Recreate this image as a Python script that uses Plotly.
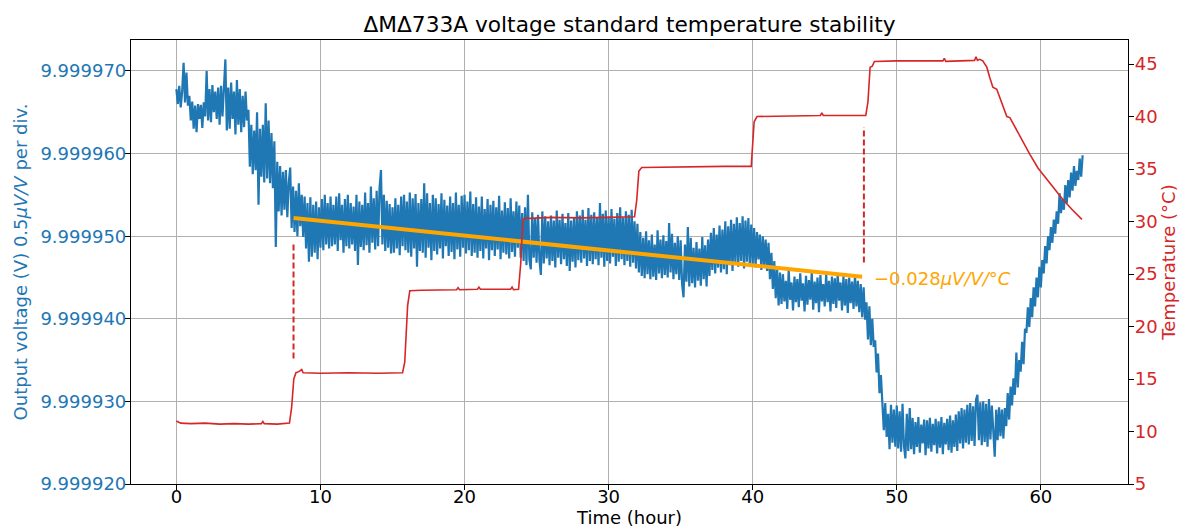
import plotly.graph_objects as go

# ---------------- data ----------------
SAMPLE_STEP_H = 0.1          # hours between voltage samples
V_BASE = 9.99992             # volts, bottom of the left axis

# Output voltage above V_BASE in microvolts, one row per hour (10 samples/hour)
volt_uv_rows = [
    [47.8, 46.0, 48.2, 45.6, 47.5, 51.0, 46.2, 49.8, 45.8, 47.0],   # 0
    [44.0, 46.3, 43.0, 45.8, 42.6, 46.0, 44.2, 45.9, 43.1, 46.2],   # 1
    [44.5, 50.0, 44.0, 47.8, 43.8, 48.3, 45.0, 47.5, 44.2, 48.0],   # 2
    [43.5, 48.2, 44.5, 47.5, 51.4, 42.8, 48.0, 43.0, 48.6, 44.2],   # 3
    [47.5, 42.3, 48.9, 43.5, 47.8, 42.6, 47.0, 43.2, 47.5, 44.0],   # 4
    [45.3, 38.4, 43.5, 37.5, 42.8, 38.0, 45.0, 33.8, 43.0, 37.2],   # 5
    [43.5, 36.5, 46.1, 37.0, 44.0, 36.4, 42.5, 35.8, 41.5, 28.7],   # 6
    [39.0, 33.0, 38.5, 32.5, 37.8, 33.2, 38.0, 32.3, 36.5, 38.3],   # 7
    [31.0, 36.0, 30.5, 35.5, 30.0, 36.4, 31.2, 35.0, 29.9, 34.8],   # 8
    [28.5, 34.0, 26.9, 34.7, 27.5, 33.8, 28.0, 34.2, 27.2, 33.5],   # 9
    [28.6, 34.5, 28.3, 35.0, 29.0, 34.0, 28.5, 34.8, 28.8, 33.8],   # 10
    [29.0, 34.8, 28.2, 35.2, 29.5, 33.8, 28.0, 34.5, 28.8, 35.0],   # 11
    [28.5, 34.0, 29.0, 33.6, 28.2, 35.0, 26.5, 34.2, 28.7, 33.8],   # 12
    [28.3, 35.3, 28.9, 34.0, 28.0, 36.0, 29.2, 34.6, 28.4, 35.5],   # 13
    [28.8, 35.8, 38.0, 29.0, 35.0, 28.2, 34.3, 28.6, 33.9, 27.9],   # 14
    [33.5, 28.0, 34.6, 28.5, 33.8, 27.7, 34.8, 28.8, 35.0, 28.3],   # 15
    [34.2, 28.0, 35.3, 27.5, 34.6, 28.5, 35.1, 26.3, 34.0, 28.2],   # 16
    [34.5, 28.0, 36.4, 27.4, 35.2, 28.6, 34.0, 27.1, 35.0, 28.2],   # 17
    [34.6, 27.8, 33.9, 28.5, 35.2, 27.3, 34.4, 28.8, 33.7, 27.6],   # 18
    [34.8, 28.1, 34.0, 27.2, 35.3, 28.4, 33.8, 27.5, 34.9, 28.6],   # 19
    [35.0, 27.9, 34.2, 28.3, 35.4, 27.6, 33.9, 28.0, 34.7, 27.4],   # 20
    [33.6, 28.2, 34.8, 27.3, 33.3, 28.5, 34.5, 27.1, 33.8, 28.3],   # 21
    [34.3, 27.6, 33.5, 28.4, 34.9, 27.2, 33.1, 28.0, 34.1, 27.8],   # 22
    [33.4, 27.3, 34.6, 28.1, 33.0, 27.5, 34.2, 28.6, 33.7, 27.4],   # 23
    [32.8, 27.0, 33.5, 26.5, 35.0, 27.2, 26.0, 32.9, 27.4, 32.2],   # 24
    [26.8, 32.6, 27.1, 25.3, 33.0, 26.7, 32.4, 27.3, 31.8, 26.5],   # 25
    [32.5, 27.0, 31.9, 26.2, 33.1, 27.4, 32.0, 26.6, 32.7, 27.2],   # 26
    [31.6, 26.4, 32.8, 25.8, 31.9, 26.9, 32.3, 26.2, 33.0, 27.1],   # 27
    [32.5, 26.8, 33.2, 27.3, 32.0, 26.4, 33.4, 27.0, 32.6, 26.6],   # 28
    [32.9, 27.2, 32.2, 26.5, 34.0, 27.4, 32.7, 26.3, 33.1, 27.0],   # 29
    [32.4, 26.7, 33.3, 27.5, 32.1, 26.4, 32.8, 26.9, 33.5, 27.2],   # 30
    [32.2, 26.5, 33.0, 27.0, 32.6, 26.3, 33.2, 26.8, 31.8, 26.1],   # 31
    [31.5, 25.6, 30.5, 25.2, 29.8, 24.9, 30.6, 25.4, 29.5, 24.8],   # 32
    [30.2, 25.1, 29.0, 24.7, 30.7, 25.5, 29.6, 24.9, 30.1, 25.3],   # 33
    [29.4, 25.0, 31.6, 25.6, 30.3, 24.8, 29.2, 25.4, 30.0, 24.7],   # 34
    [29.5, 24.2, 22.6, 29.0, 24.5, 31.1, 23.9, 29.8, 24.3, 28.6],   # 35
    [23.8, 29.3, 24.6, 28.5, 24.0, 29.9, 24.8, 28.9, 23.9, 29.6],   # 36
    [25.2, 30.4, 25.9, 31.0, 25.5, 30.2, 26.2, 31.3, 25.6, 30.8],   # 37
    [26.0, 31.8, 25.4, 31.2, 26.5, 32.0, 25.8, 31.5, 26.8, 32.3],   # 38
    [26.3, 31.6, 27.0, 32.4, 26.1, 31.9, 26.9, 32.2, 26.4, 31.4],   # 39
    [26.6, 31.0, 26.2, 30.5, 27.2, 30.2, 25.9, 30.0, 26.4, 29.6],   # 40
    [25.8, 29.2, 24.8, 28.0, 23.6, 27.0, 22.5, 26.0, 21.6, 25.6],   # 41
    [21.8, 25.4, 22.1, 24.6, 21.2, 25.9, 22.3, 24.4, 21.0, 25.1],   # 42
    [22.0, 24.8, 21.4, 25.5, 22.2, 24.3, 20.9, 25.2, 21.7, 24.7],   # 43
    [22.3, 25.6, 21.1, 24.5, 21.9, 25.0, 20.8, 25.3, 22.1, 24.2],   # 44
    [21.5, 25.4, 22.0, 24.6, 20.9, 25.1, 21.8, 24.9, 21.3, 25.5],   # 45
    [22.2, 24.4, 21.0, 25.2, 21.6, 24.8, 20.7, 25.0, 21.9, 24.5],   # 46
    [21.2, 25.3, 21.5, 24.6, 20.8, 24.2, 20.2, 23.8, 19.9, 22.0],   # 47
    [17.5, 21.5, 16.8, 20.0, 16.6, 17.4, 13.5, 15.8, 11.0, 13.2],   # 48
    [10.2, 6.5, 9.8, 5.7, 8.5, 4.2, 9.6, 5.0, 9.0, 4.5],            # 49
    [9.5, 4.3, 8.8, 3.9, 9.7, 4.6, 3.1, 8.5, 4.0, 9.2],             # 50
    [4.2, 8.0, 3.6, 7.5, 4.5, 8.1, 3.8, 7.2, 4.9, 7.8],             # 51
    [3.5, 7.7, 4.3, 8.0, 3.9, 7.3, 4.7, 7.9, 3.7, 7.6],             # 52
    [4.4, 8.1, 3.6, 7.4, 4.8, 7.9, 4.1, 8.3, 3.8, 7.7],             # 53
    [4.5, 8.4, 4.0, 8.8, 4.9, 9.2, 4.3, 9.0, 5.0, 9.6],             # 54
    [4.8, 9.8, 5.2, 9.4, 4.6, 10.2, 10.8, 5.3, 9.9, 4.7],           # 55
    [10.0, 5.1, 9.7, 4.5, 10.3, 5.4, 9.5, 6.0, 3.3, 9.0],           # 56
    [5.3, 9.3, 5.8, 9.0, 5.5, 9.2, 7.0, 11.0, 7.8, 11.8],           # 57
    [9.5, 12.8, 10.8, 15.9, 11.7, 15.0, 13.6, 17.2, 14.5, 18.8],    # 58
    [18.3, 21.4, 19.0, 22.5, 20.2, 23.8, 21.5, 25.0, 22.6, 26.3],   # 59
    [23.8, 27.1, 25.5, 28.8, 26.7, 30.0, 28.3, 31.1, 29.2, 32.0],   # 60
    [30.3, 33.0, 31.5, 35.2, 32.8, 34.5, 33.2, 36.2, 34.0, 36.8],   # 61
    [34.7, 37.7, 35.5, 38.5, 36.1, 37.9, 36.8, 39.4, 37.2, 39.8],   # 62
]

# Temperature profile (hour, °C)
temp_t = [0.0, 0.3, 1.0, 2.0, 3.0, 4.0, 5.0, 5.9, 6.0, 6.1, 7.0, 7.7, 7.85,
          8.0, 8.15, 8.3, 8.5, 8.7, 8.8, 10.0, 12.0, 14.0, 15.7, 15.85, 16.05,
          16.2, 17.0, 19.45, 19.55, 19.65, 20.9, 21.0, 21.1, 23.2, 23.3, 23.4,
          23.75, 23.9, 24.05, 24.3, 24.5, 26.0, 28.0, 30.0, 31.8, 31.95, 32.1,
          32.3, 34.0, 36.0, 38.0, 39.9, 40.0, 40.1, 40.3, 42.0, 44.7, 44.8,
          44.9, 46.0, 47.85, 48.0, 48.15, 48.3, 48.45, 50.0, 53.2, 53.3, 53.4,
          55.4, 55.5, 55.6, 55.75, 55.97, 56.25, 56.46, 56.67, 56.94, 57.3,
          57.64, 57.85, 58.5, 59.24, 59.8, 60.42, 61.0, 61.53, 62.2, 62.85]
temp_c = [11.0, 10.8, 10.75, 10.8, 10.7, 10.75, 10.7, 10.75, 10.95, 10.75, 10.7,
          10.75, 10.8, 12.3, 15.0, 15.6, 15.7, 15.9, 15.6, 15.55, 15.6, 15.55,
          15.6, 16.6, 22.0, 23.4, 23.45, 23.5, 23.7, 23.5, 23.55, 23.75, 23.55,
          23.55, 23.75, 23.5, 23.55, 26.0, 30.2, 30.35, 30.3, 30.4, 30.35, 30.4,
          30.45, 32.0, 34.8, 35.15, 35.2, 35.2, 35.25, 35.25, 37.5, 39.5, 40.0,
          40.05, 40.1, 40.35, 40.1, 40.1, 40.1, 41.4, 44.7, 44.8, 45.25, 45.3,
          45.3, 45.55, 45.25, 45.35, 45.7, 45.35, 45.45, 45.3, 44.7, 43.7, 42.8,
          42.6, 41.3, 40.0, 39.9, 38.2, 36.4, 35.1, 34.0, 33.0, 32.1, 31.1, 30.2]

# Linear fit over the temperature steps (hour, µV above V_BASE)
fit_t = [8.13, 47.6]
fit_uv = [32.2, 25.1]

# Dashed markers (hour, µV above V_BASE)
mark1_t = [8.13, 8.13]
mark1_uv = [15.2, 29.3]
mark2_t = [47.72, 47.72]
mark2_uv = [26.8, 43.2]

coef_label = "\u22120.028<i>\u03bcV/V/\u00b0C</i>"
coef_pos_t = 48.3
coef_pos_uv = 24.9

x_ticks = [0, 10, 20, 30, 40, 50, 60]
v_ticks = [9.99992, 9.99993, 9.99994, 9.99995, 9.99996, 9.99997]
t_ticks = [5, 10, 15, 20, 25, 30, 35, 40, 45]

# ---------------- build ----------------
volt_uv = [v for row in volt_uv_rows for v in row]
time_h = [round(i * SAMPLE_STEP_H, 2) for i in range(len(volt_uv))]


def to_volt(vals):
    return [V_BASE + v * 1e-6 for v in vals]


BLUE = "#1f77b4"
RED = "#d62728"
ORANGE = "#FFA500"
FONT = "DejaVu Sans"

fig = go.Figure()
fig.add_trace(go.Scatter(x=time_h, y=to_volt(volt_uv), mode="lines",
                         line=dict(color=BLUE, width=2.2), yaxis="y"))
fig.add_trace(go.Scatter(x=fit_t, y=to_volt(fit_uv), mode="lines",
                         line=dict(color=ORANGE, width=4), yaxis="y"))
fig.add_trace(go.Scatter(x=mark1_t, y=to_volt(mark1_uv), mode="lines",
                         line=dict(color=RED, width=2, dash="6px,3px"), yaxis="y"))
fig.add_trace(go.Scatter(x=mark2_t, y=to_volt(mark2_uv), mode="lines",
                         line=dict(color=RED, width=2, dash="6px,3px"), yaxis="y"))
fig.add_trace(go.Scatter(x=temp_t, y=temp_c, mode="lines",
                         line=dict(color=RED, width=1.6), yaxis="y2"))

fig.add_annotation(x=coef_pos_t, y=V_BASE + coef_pos_uv * 1e-6, xref="x", yref="y",
                   text=coef_label, showarrow=False, xanchor="left", yanchor="middle",
                   font=dict(family=FONT, size=18, color=ORANGE))

GRID = "#b0b0b0"
fig.update_layout(
    width=1181, height=531,
    margin=dict(l=131, r=53, t=40, b=47),
    paper_bgcolor="white", plot_bgcolor="white",
    showlegend=False,
    font=dict(family=FONT, size=18, color="black"),
    title=dict(text="\u0394M\u0394733A voltage standard temperature stability",
               x=0.5, xref="paper", xanchor="center", y=1 - 24 / 531,
               yanchor="middle", yref="container",
               font=dict(family=FONT, size=21.7, color="black")),
    xaxis=dict(range=[-3.15, 66.05], tickvals=x_ticks, showgrid=True,
               gridcolor=GRID, gridwidth=1, zeroline=False,
               showline=True, linecolor="black", linewidth=1.2, mirror=True,
               ticks="outside", ticklen=5, tickwidth=1.2, tickcolor="black",
               ticklabelstandoff=-9,
               tickfont=dict(size=18, color="black"),
               title=dict(text="Time (hour)", standoff=2,
                          font=dict(size=18, color="black")),
               automargin=False),
    yaxis=dict(range=[9.99992, 9.99997375], tickvals=v_ticks, tickformat=".6f",
               showgrid=True, gridcolor=GRID, gridwidth=1, zeroline=False,
               showline=True, linecolor="black", linewidth=1.2, mirror=True,
               ticks="outside", ticklen=5, tickwidth=1.2, tickcolor="black",
               ticklabelstandoff=-5,
               tickfont=dict(size=18, color=BLUE),
               title=dict(text="Output voltage (V) 0.5<i>\u03bcV/V</i> per div.",
                          standoff=8, font=dict(size=18, color=BLUE)),
               automargin=False),
    yaxis2=dict(range=[5, 47.29], tickvals=t_ticks, overlaying="y", side="right",
                showgrid=False, zeroline=False,
                showline=True, linecolor="black", linewidth=1.2,
                ticks="outside", ticklen=5, tickwidth=1.2, tickcolor="black",
                ticklabelstandoff=-3,
                tickfont=dict(size=18, color=RED),
                title=dict(text="Temperature (\u00b0C)", standoff=4,
                           font=dict(size=18, color=RED)),
                automargin=False),
)

fig.write_html("out.html", config={"displayModeBar": False},
               post_script="document.body.style.margin='0';")
